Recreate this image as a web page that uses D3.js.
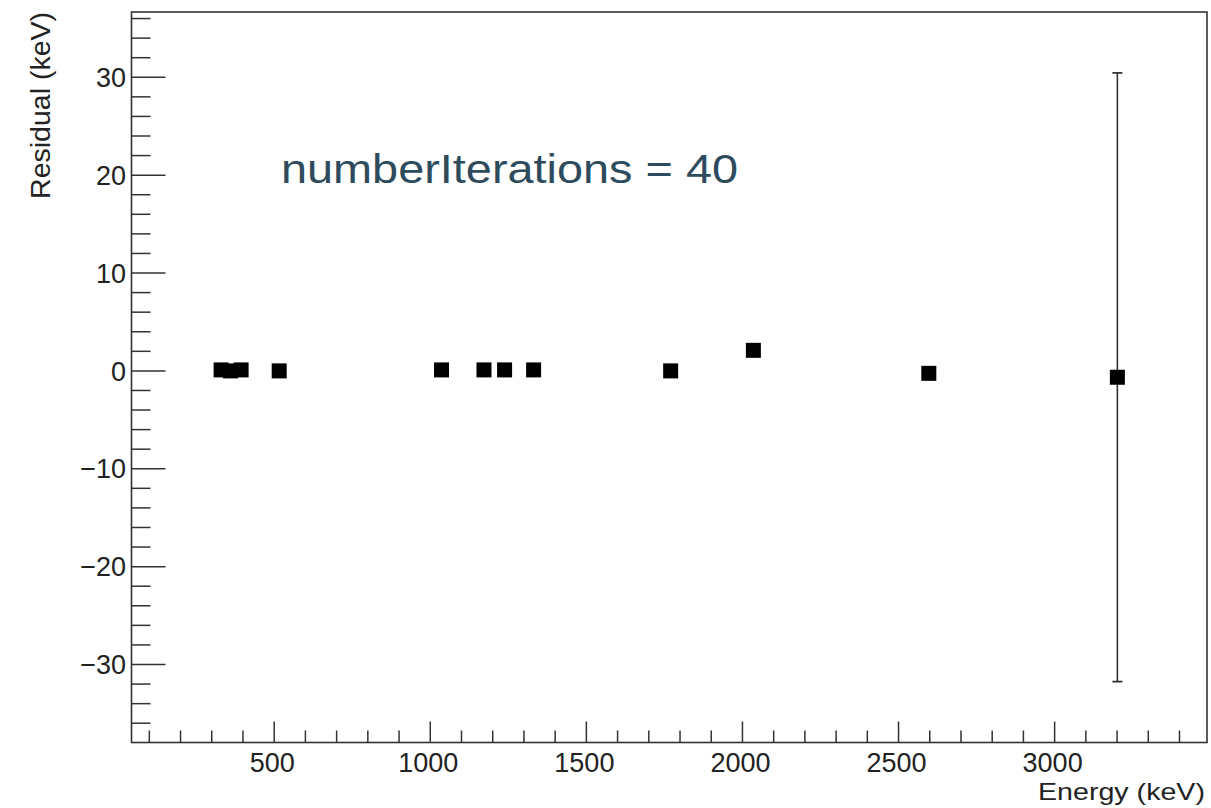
<!DOCTYPE html>
<html lang="en">
<head>
  <meta charset="UTF-8" />
  <title>Residuals</title>
  <style>
    html, body {
      margin: 0;
      padding: 0;
      background: #ffffff;
      overflow: hidden;
    }
    svg {
      display: block;
      font-family: "Liberation Sans", Arial, Helvetica, sans-serif;
    }
  </style>
</head>
<body>
  <svg id="chart" width="1211" height="808"></svg>

  <script src="https://d3js.org/d3.v7.min.js"></script>
  <script>
    // data
    const energies  = [330, 360, 394, 516, 1036, 1172, 1238, 1331, 1770, 2035, 2597, 3201];
    const residuals = [0.1, 0.0, 0.1, 0.0, 0.1, 0.1, 0.1, 0.1, 0.0, 2.1, -0.25, -0.65];
    const errors    = [0.1, 0.1, 0.1, 0.1, 0.1, 0.1, 0.1, 0.1, 0.2, 0.3, 0.5, 31.1];

    const xMajorTicks = [500, 1000, 1500, 2000, 2500, 3000];
    const yMajorTicks = [-30, -20, -10, 0, 10, 20, 30];

    const xTitle = "Energy (keV)";
    const yTitle = "Residual (keV)";
    const note = "numberIterations = 40";

    const width = 1211, height = 808;
    const frame = { left: 131.5, right: 1207, top: 12, bottom: 742.5 };

    const svg = d3.select("#chart");

    // ROOT style range: data extent plus 10% on each side
    const xmin = d3.min(energies), xmax = d3.max(energies);
    const dx = xmax - xmin;
    const ylo = d3.min(residuals, (d, i) => d - errors[i]);
    const yhi = d3.max(residuals, (d, i) => d + errors[i]);
    const dy = yhi - ylo;

    const x = d3.scaleLinear()
      .domain([xmin - 0.1 * dx, xmax + 0.1 * dx])
      .range([frame.left, frame.right]);

    const y = d3.scaleLinear()
      .domain([ylo - 0.1 * dy, yhi + 0.1 * dy])
      .range([frame.bottom, frame.top]);

    const ink = "#222";

    // frame
    svg.append("rect")
      .attr("x", frame.left)
      .attr("y", frame.top)
      .attr("width", frame.right - frame.left)
      .attr("height", frame.bottom - frame.top)
      .attr("fill", "none")
      .attr("stroke", "#333")
      .attr("stroke-width", 1.6);

    // x axis ticks (major every 500, minor every 100)
    const xMinor = d3.range(100, x.domain()[1], 100).filter(v => v > x.domain()[0] && v % 500 !== 0);
    const xAxis = svg.append("g");
    xAxis.selectAll(".xminor").data(xMinor).join("line")
      .attr("x1", d => x(d)).attr("x2", d => x(d))
      .attr("y1", frame.bottom).attr("y2", frame.bottom - 12)
      .attr("stroke", "#333").attr("stroke-width", 1.5);
    xAxis.selectAll(".xmajor").data(xMajorTicks).join("line")
      .attr("x1", d => x(d)).attr("x2", d => x(d))
      .attr("y1", frame.bottom).attr("y2", frame.bottom - 21)
      .attr("stroke", "#333").attr("stroke-width", 1.5);
    xAxis.selectAll("text").data(xMajorTicks).join("text")
      .attr("x", d => x(d) - 2)
      .attr("y", 772)
      .attr("text-anchor", "middle")
      .attr("fill", ink)
      .style("font-size", "27px")
      .text(d => d);

    // y axis ticks (major every 10, minor every 2)
    const yMinor = d3.range(-36, 37, 2).filter(v => v % 10 !== 0 && v > y.domain()[0] && v < y.domain()[1]);
    const yAxis = svg.append("g");
    yAxis.selectAll(".yminor").data(yMinor).join("line")
      .attr("x1", frame.left).attr("x2", frame.left + 19)
      .attr("y1", d => y(d)).attr("y2", d => y(d))
      .attr("stroke", "#333").attr("stroke-width", 1.5);
    yAxis.selectAll(".ymajor").data(yMajorTicks).join("line")
      .attr("x1", frame.left).attr("x2", frame.left + 34)
      .attr("y1", d => y(d)).attr("y2", d => y(d))
      .attr("stroke", "#333").attr("stroke-width", 1.5);
    yAxis.selectAll("text").data(yMajorTicks).join("text")
      .attr("x", 126)
      .attr("y", d => y(d))
      .attr("dy", "0.36em")
      .attr("text-anchor", "end")
      .attr("fill", ink)
      .style("font-size", "27px")
      .text(d => d < 0 ? "\u2212" + Math.abs(d) : d);

    // axis titles
    svg.append("text")
      .attr("x", 1205)
      .attr("y", 800)
      .attr("text-anchor", "end")
      .attr("fill", ink)
      .attr("textLength", 167)
      .attr("lengthAdjust", "spacingAndGlyphs")
      .style("font-size", "24px")
      .text(xTitle);

    svg.append("text")
      .attr("transform", "translate(50," + frame.top + ") rotate(-90)")
      .attr("text-anchor", "end")
      .attr("fill", ink)
      .style("font-size", "28.5px")
      .text(yTitle);

    // error bars with caps
    const points = energies.map((e, i) => ({ e: e, r: residuals[i], err: errors[i] }));
    const bars = svg.append("g").selectAll("g").data(points.filter(p => Math.abs(y(p.r + p.err) - y(p.r)) > 8)).join("g");
    bars.append("line")
      .attr("x1", d => x(d.e)).attr("x2", d => x(d.e))
      .attr("y1", d => y(d.r + d.err)).attr("y2", d => y(d.r - d.err))
      .attr("stroke", "#333").attr("stroke-width", 1.6);
    bars.append("line")
      .attr("x1", d => x(d.e) - 5).attr("x2", d => x(d.e) + 5)
      .attr("y1", d => y(d.r + d.err)).attr("y2", d => y(d.r + d.err))
      .attr("stroke", "#333").attr("stroke-width", 1.8);
    bars.append("line")
      .attr("x1", d => x(d.e) - 5).attr("x2", d => x(d.e) + 5)
      .attr("y1", d => y(d.r - d.err)).attr("y2", d => y(d.r - d.err))
      .attr("stroke", "#333").attr("stroke-width", 1.8);

    // square markers
    const size = 15;
    svg.append("g").selectAll("rect").data(points).join("rect")
      .attr("x", d => x(d.e) - size / 2)
      .attr("y", d => y(d.r) - size / 2)
      .attr("width", size)
      .attr("height", size)
      .attr("fill", "#000");

    // annotation
    svg.append("text")
      .attr("x", 281)
      .attr("y", 183)
      .attr("fill", "#2d4b5d")
      .attr("textLength", 457)
      .attr("lengthAdjust", "spacingAndGlyphs")
      .style("font-size", "41px")
      .text(note);
  </script>
</body>
</html>
